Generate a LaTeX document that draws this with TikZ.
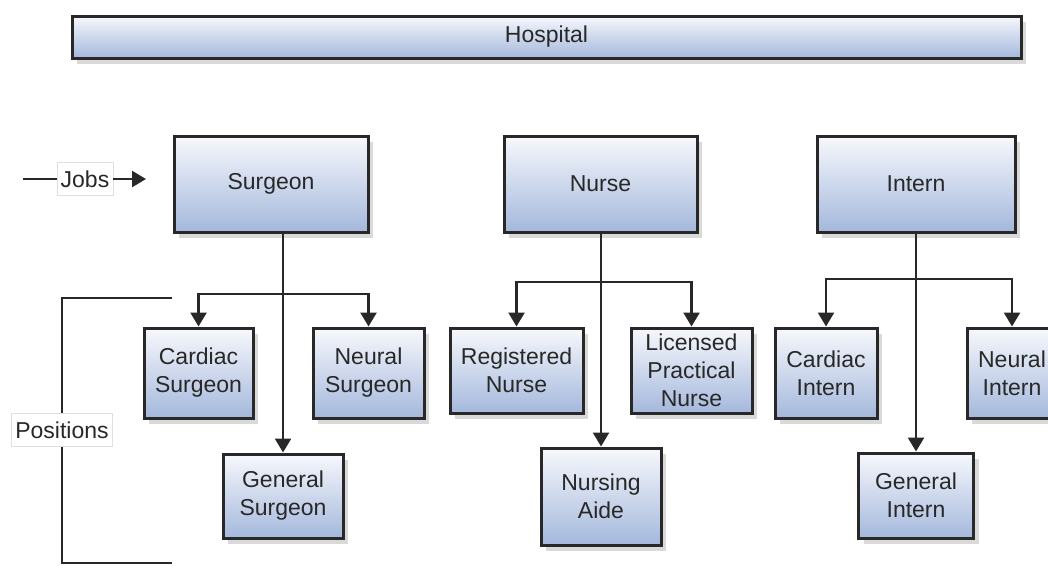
\documentclass[tikz,border=0pt]{standalone}
\usepackage{fontspec}
\setmainfont{Liberation Sans}
\usetikzlibrary{arrows.meta,shadows}
\tikzset{>={Triangle[length=14pt,width=16pt]}}
\definecolor{boxtop}{RGB}{247,248,252}
\definecolor{boxbot}{RGB}{164,184,220}
\definecolor{ink}{RGB}{40,40,40}

\begin{document}
\begin{tikzpicture}[x=1pt,y=-1pt,
  every node/.style={font=\fontsize{23}{28}\selectfont},
  box/.style 2 args={draw=ink, line width=3pt, top color=boxtop, bottom color=boxbot,
    minimum width=#1pt, minimum height=#2pt, inner sep=0pt, align=center, text=ink,
    drop shadow={shadow xshift=5pt, shadow yshift=-6pt, fill=black, opacity=0.15}},
  tag/.style={draw=gray!25, fill=white, inner xsep=4pt, minimum height=33pt, text=ink},
  link/.style={line width=2.5pt, draw=ink}]
\useasboundingbox (0,0) rectangle (1048,565);
% top
\node[box={949}{42}] (hospital) at (546.5,37) {Hospital};
% jobs
\node[box={194}{96}] (surgeon) at (271,184) {Surgeon};
\node[box={193}{96}] (nurse) at (600.5,184) {Nurse};
\node[box={198}{96}] (intern) at (916,184) {Intern};
% positions
\node[box={109}{90}] (csurg) at (198.5,373) {Cardiac\\Surgeon};
\node[box={111}{90}] (nsurg) at (368.5,373) {Neural\\Surgeon};
\node[box={120}{84}] (gsurg) at (283,496) {General\\Surgeon};
\node[box={133}{85}] (rnurse) at (516.5,370.5) {Registered\\Nurse};
\node[box={121}{85}] (lpnurse) at (691.5,370.5) {Licensed\\Practical\\Nurse};
\node[box={120}{97}] (aide) at (601,496.5) {Nursing\\Aide};
\node[box={102}{90}] (cintern) at (826,373) {Cardiac\\Intern};
\node[box={90}{90}] (nintern) at (1012,373) {Neural\\Intern};
\node[box={115}{85}] (gintern) at (916,495.5) {General\\Intern};
% labels
\node[tag] (jobs) at (85,179) {Jobs};
\node[tag] (positions) at (62,430) {Positions};
\coordinate (jobsin) at (23,179);
\coordinate (jobsout) at (146,179);
\draw[link] (jobsin) -- (jobs);
\draw[link,->] (jobs) -- (jobsout);
\coordinate (ptop) at (172,298);
\coordinate (pbot) at (172,563);
\draw[link] (ptop) -| (positions);
\draw[link] (pbot) -| (positions);
% surgeon
\coordinate (sfork) at (283,294);
\draw[link,->] (surgeon.south -| gsurg) -- (gsurg.north);
\draw[link,->] (sfork) -| (csurg.north);
\draw[link,->] (sfork) -| (nsurg.north);
% nurse
\coordinate (nfork) at (601,282);
\draw[link,->] (nurse.south -| aide) -- (aide.north);
\draw[link,->] (nfork) -| (rnurse.north);
\draw[link,->] (nfork) -| (lpnurse.north);
% intern
\coordinate (ifork) at (916,279);
\draw[link,->] (intern.south) -- (gintern.north);
\draw[link,->] (ifork) -| (cintern.north);
\draw[link,->] (ifork) -| (nintern.north);
\end{tikzpicture}
\end{document}
